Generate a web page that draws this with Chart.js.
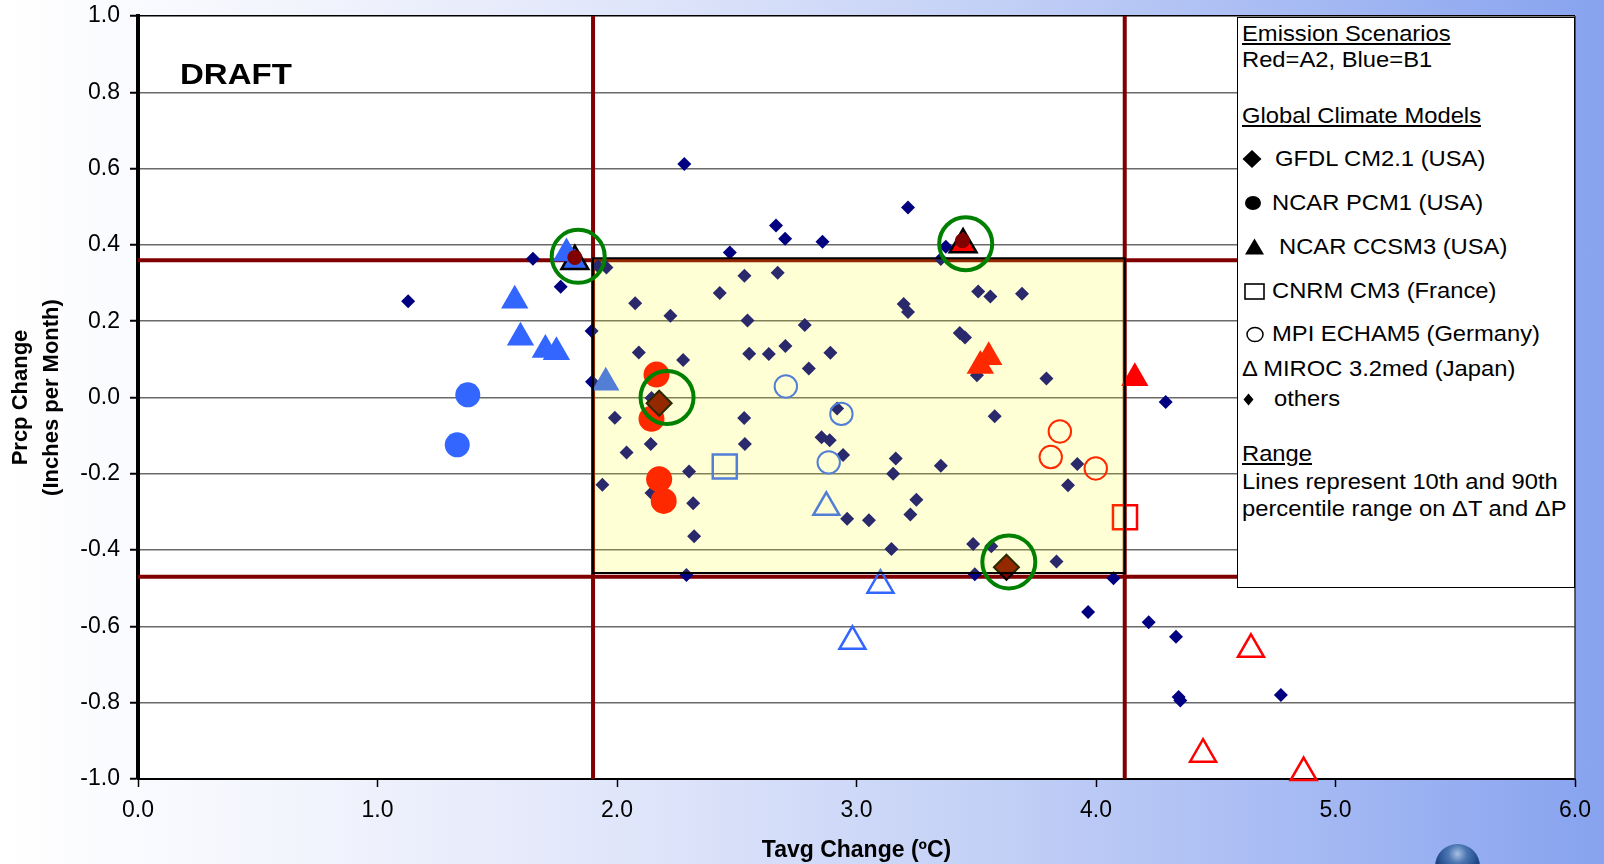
<!DOCTYPE html>
<html>
<head>
<meta charset="utf-8">
<title>Temperature and precipitation change by climate model</title>
<script src="https://cdn.jsdelivr.net/npm/chart.js@4.4.1/dist/chart.umd.min.js"></script>
<style>
  html, body { margin: 0; padding: 0; }
  body {
    width: 1604px; height: 864px; overflow: hidden; position: relative;
    background: linear-gradient(to right, #ffffff 0%, #f3f5fd 18%, #dfe5fa 40%, #c3d0f6 62%, #a5b9f3 82%, #87a3ef 100%);
    font-family: "Liberation Sans", Arial, sans-serif;
  }
  #c { position: absolute; left: 0; top: 0; }
  .draft {
    position: absolute; left: 180px; top: 56px; font-weight: bold; font-size: 30px; line-height: 36px;
    transform: scaleX(1.1); transform-origin: left center; color: #000;
  }
  #legend {
    position: absolute; left: 1237px; top: 17px; width: 336px; height: 569px;
    border: 1.5px solid #000; background: #fff;
  }
  .ln {
    position: absolute; font-size: 22px; line-height: 26px; height: 26px; white-space: nowrap;
    transform: scaleX(1.08); transform-origin: left center; color: #000;
  }
  .u { text-decoration: underline; }
  .sym { position: absolute; overflow: visible; }
  .sphere {
    position: absolute; left: 1435px; top: 844px; width: 45px; height: 45px; border-radius: 50%;
    background: radial-gradient(circle at 50% 22%, #a9c0e4 0%, #4c77b3 22%, #1d4688 52%, #0c2a5e 100%);
  }
</style>
</head>
<body>
<canvas id="c" width="1604" height="864"></canvas>
<div class="draft">DRAFT</div>

<div id="legend">
  <div class="ln u" style="left:4px; top:3px;">Emission Scenarios</div>
  <div class="ln" style="left:4px; top:29px;">Red=A2, Blue=B1</div>
  <div class="ln u" style="left:4px; top:85px;">Global Climate Models</div>

  <svg class="sym" style="left:4px; top:131px;" width="20" height="20"><polygon points="10,1 19.5,10 10,19 0.5,10" fill="#000"/></svg>
  <div class="ln" style="left:37px; top:128px;">GFDL CM2.1 (USA)</div>

  <svg class="sym" style="left:7px; top:177px;" width="18" height="16"><ellipse cx="8" cy="8" rx="8" ry="7" fill="#000"/></svg>
  <div class="ln" style="left:34px; top:172px;">NCAR PCM1 (USA)</div>

  <svg class="sym" style="left:7px; top:220px;" width="20" height="18"><polygon points="9.5,0.5 19,16.5 0,16.5" fill="#000"/></svg>
  <div class="ln" style="left:41px; top:216px;">NCAR CCSM3 (USA)</div>

  <svg class="sym" style="left:6px; top:265px;" width="22" height="18"><rect x="1" y="1" width="19" height="15" fill="none" stroke="#000" stroke-width="1.6"/></svg>
  <div class="ln" style="left:34px; top:260px;">CNRM CM3 (France)</div>

  <svg class="sym" style="left:8px; top:308px;" width="20" height="18"><ellipse cx="9" cy="8.5" rx="8" ry="7" fill="none" stroke="#000" stroke-width="1.5"/></svg>
  <div class="ln" style="left:34px; top:303px;">MPI ECHAM5 (Germany)</div>

  <div class="ln" style="left:4px; top:338px;">&#916; MIROC 3.2med (Japan)</div>

  <svg class="sym" style="left:5px; top:375px;" width="12" height="13"><polygon points="5.5,0.5 10.5,6.5 5.5,12.5 0.5,6.5" fill="#000"/></svg>
  <div class="ln" style="left:36px; top:368px;">others</div>

  <div class="ln u" style="left:4px; top:423px;">Range</div>
  <div class="ln" style="left:4px; top:451px;">Lines represent 10th and 90th</div>
  <div class="ln" style="left:4px; top:478px;">percentile range on &#916;T and &#916;P</div>
</div>

<div class="sphere"></div>

<script>
// Change in average temperature (°C) and precipitation (inches per month), one [dT, dP] pair per run.

// Other GCM runs
const othersPts = [
  [1.128, 0.252], [1.649, 0.364], [1.765, 0.290], [1.921, 0.344], [1.956, 0.341],
  [1.894, 0.174], [1.896, 0.041], [1.991, -0.053], [2.040, -0.144], [1.939, -0.229],
  [2.076, 0.247], [2.091, 0.118], [2.223, 0.214], [2.276, 0.098], [2.141, -0.122],
  [2.144, -0.250], [2.144, -0.001], [2.301, -0.194], [2.318, -0.277], [2.322, -0.364],
  [2.290, -0.465], [2.281, 0.612], [2.471, 0.380], [2.429, 0.274], [2.532, 0.319],
  [2.545, 0.202], [2.552, 0.115], [2.634, 0.114], [2.703, 0.135], [2.671, 0.327],
  [2.664, 0.451], [2.702, 0.416], [2.858, 0.408], [2.784, 0.190], [2.801, 0.076],
  [2.891, 0.117], [2.531, -0.054], [2.534, -0.122], [2.854, -0.104], [2.888, -0.112],
  [2.919, -0.029], [2.944, -0.151], [2.961, -0.318], [3.052, -0.322], [3.146, -0.397],
  [3.164, -0.160], [3.153, -0.200], [3.250, -0.268], [3.225, -0.307], [3.352, -0.179],
  [3.215, 0.498], [3.197, 0.245], [3.215, 0.224], [3.431, 0.169], [3.453, 0.157],
  [3.373, 0.395], [3.352, 0.363], [3.508, 0.278], [3.559, 0.265], [3.691, 0.272],
  [3.503, 0.058], [3.793, 0.050], [3.577, -0.049], [3.922, -0.174], [3.883, -0.230],
  [3.487, -0.384], [3.563, -0.390], [3.494, -0.463], [3.835, -0.430], [4.073, -0.474],
  [3.967, -0.562], [4.220, -0.589], [4.334, -0.627], [4.345, -0.785], [4.352, -0.794],
  [4.772, -0.780], [4.291, -0.012]
];

// GFDL CM2.1 (USA)
const gfdlPts = [[2.176, -0.015], [3.626, -0.445]];

// NCAR PCM1 (USA)
const pcm1B1 = [[1.377, 0.007], [1.333, -0.124]];
const pcm1A2 = [[2.165, 0.060], [2.144, -0.056], [2.176, -0.214], [2.195, -0.271]];

// NCAR CCSM3 (USA)
const ccsm3B1 = [[1.573, 0.254], [1.597, 0.157], [1.701, 0.125], [1.747, 0.119], [1.789, 0.378], [1.953, 0.039]];
const ccsm3A2 = [[3.552, 0.106], [3.517, 0.083], [4.162, 0.051]];
const ccsm3B1Sel = [[1.824, 0.357]];
const ccsm3A2Sel = [[3.445, 0.401]];

// CNRM CM3 (France)
const cnrmB1 = [[2.450, -0.181]];
const cnrmA2 = [[4.121, -0.314]];

// MPI ECHAM5 (Germany)
const mpiB1 = [[2.705, 0.029], [2.937, -0.043], [2.884, -0.170]];
const mpiA2 = [[3.849, -0.089], [3.811, -0.156], [3.999, -0.186]];

// MIROC 3.2med (Japan)
const mirocB1 = [[2.874, -0.288], [3.100, -0.492], [2.983, -0.639]];
const mirocA2 = [[4.647, -0.660], [4.447, -0.935], [4.867, -0.983]];

// Selected runs (dot) and the circled scenarios
const selectedRuns = [[1.824, 0.367], [2.176, -0.015], [3.442, 0.411]];
const circledRuns = [[1.838, 0.370], [2.209, 0.000], [3.456, 0.403], [3.636, -0.431]];

// 10th / 90th percentile range on dT and dP
const tempRange = [1.9, 4.12];
const prcpRange = [-0.47, 0.36];
// Shaded envelope
const boxTemp = [1.9, 4.12];
const boxPrcp = [-0.46, 0.365];

// Axis ticks
const xTickValues = [0, 1, 2, 3, 4, 5, 6];
const yTickValues = [-1.0, -0.8, -0.6, -0.4, -0.2, 0.0, 0.2, 0.4, 0.6, 0.8, 1.0];

const FONT = '"Liberation Sans", Arial, sans-serif';
const RED = '#ff0000';
const BLUE = '#3366ff';
const NAVY = '#000080';
const DARKRED = '#800000';

const toXY = pts => pts.map(p => ({ x: p[0], y: p[1] }));
const fmt = v => (Math.abs(v) < 1e-9 ? 0 : v).toFixed(1);

function ds(label, pts, style) {
  return Object.assign({ label, data: toXY(pts), clip: false, pointBorderWidth: 0 }, style);
}

const datasets = [
  ds('others', othersPts, { order: 20, pointStyle: 'rectRot', pointRadius: 7, backgroundColor: NAVY, borderColor: NAVY, pointBorderWidth: 0 }),
  ds('NCAR CCSM3 B1 (selected)', ccsm3B1Sel, { order: 19, pointStyle: 'triangle', pointRadius: 15.5, backgroundColor: BLUE, borderColor: '#000', pointBorderWidth: 2.5 }),
  ds('NCAR CCSM3 A2 (selected)', ccsm3A2Sel, { order: 19, pointStyle: 'triangle', pointRadius: 15.5, backgroundColor: RED, borderColor: '#000', pointBorderWidth: 2.5 }),
  ds('NCAR PCM1 B1', pcm1B1, { order: 15, pointStyle: 'circle', pointRadius: 12.5, backgroundColor: BLUE, borderColor: BLUE }),
  ds('NCAR PCM1 A2', pcm1A2, { order: 15, pointStyle: 'circle', pointRadius: 13, backgroundColor: RED, borderColor: RED }),
  ds('NCAR CCSM3 B1', ccsm3B1, { order: 15, pointStyle: 'triangle', pointRadius: 15.8, backgroundColor: BLUE, borderColor: BLUE }),
  ds('NCAR CCSM3 A2', ccsm3A2, { order: 15, pointStyle: 'triangle', pointRadius: 15.8, backgroundColor: RED, borderColor: RED }),
  ds('CNRM CM3 B1', cnrmB1, { order: 15, pointStyle: 'rect', pointRadius: 17, backgroundColor: 'rgba(0,0,0,0)', borderColor: BLUE, pointBorderWidth: 2.5 }),
  ds('CNRM CM3 A2', cnrmA2, { order: 15, pointStyle: 'rect', pointRadius: 17, backgroundColor: 'rgba(0,0,0,0)', borderColor: RED, pointBorderWidth: 2.5 }),
  ds('MPI ECHAM5 B1', mpiB1, { order: 15, pointStyle: 'circle', pointRadius: 11.2, backgroundColor: 'rgba(0,0,0,0)', borderColor: BLUE, pointBorderWidth: 2 }),
  ds('MPI ECHAM5 A2', mpiA2, { order: 15, pointStyle: 'circle', pointRadius: 11.2, backgroundColor: 'rgba(0,0,0,0)', borderColor: RED, pointBorderWidth: 2 }),
  ds('MIROC 3.2med B1', mirocB1, { order: 15, pointStyle: 'triangle', pointRadius: 15, backgroundColor: 'rgba(0,0,0,0)', borderColor: BLUE, pointBorderWidth: 2.5 }),
  ds('MIROC 3.2med A2', mirocA2, { order: 15, pointStyle: 'triangle', pointRadius: 15, backgroundColor: 'rgba(0,0,0,0)', borderColor: RED, pointBorderWidth: 2.5 }),
  ds('GFDL CM2.1', gfdlPts, { order: 12, pointStyle: 'rectRot', pointRadius: 12.5, backgroundColor: DARKRED, borderColor: '#000', pointBorderWidth: 2 }),
  ds('selected', selectedRuns, { order: 11, pointStyle: 'circle', pointRadius: 7.5, backgroundColor: DARKRED, borderColor: DARKRED }),
  ds('circled', circledRuns, { order: 0, isRing: true, pointStyle: 'circle', pointRadius: 26.5, backgroundColor: 'rgba(0,0,0,0)', borderColor: '#008000', pointBorderWidth: 4 })
];

// Plot background, percentile lines, and the translucent envelope over the runs
const decor = {
  id: 'decor',
  beforeDraw(chart) {
    const { ctx, chartArea: a } = chart;
    ctx.save();
    ctx.fillStyle = '#ffffff';
    ctx.fillRect(a.left, a.top, a.right - a.left, a.bottom - a.top);
    ctx.restore();
  },
  beforeDatasetsDraw(chart) {
    const { ctx, chartArea: a, scales: { x, y } } = chart;
    ctx.save();
    // right border of the plot
    ctx.strokeStyle = '#333';
    ctx.lineWidth = 1.5;
    ctx.beginPath();
    ctx.moveTo(a.right, a.top);
    ctx.lineTo(a.right, a.bottom);
    ctx.stroke();
    // percentile lines
    ctx.strokeStyle = DARKRED;
    ctx.lineWidth = 4;
    ctx.beginPath();
    tempRange.forEach(t => {
      const px = x.getPixelForValue(t);
      ctx.moveTo(px, a.top);
      ctx.lineTo(px, a.bottom);
    });
    prcpRange.forEach(p => {
      const py = y.getPixelForValue(p);
      ctx.moveTo(a.left, py);
      ctx.lineTo(a.right, py);
    });
    ctx.stroke();
    ctx.restore();
  },
  beforeDatasetDraw(chart, args) {
    if (!chart.data.datasets[args.index].isRing) return;
    const { ctx, scales: { x, y } } = chart;
    const x0 = x.getPixelForValue(boxTemp[0]);
    const x1 = x.getPixelForValue(boxTemp[1]);
    const y0 = y.getPixelForValue(boxPrcp[1]);
    const y1 = y.getPixelForValue(boxPrcp[0]);
    ctx.save();
    ctx.fillStyle = 'rgba(255,255,0,0.16)';
    ctx.fillRect(x0, y0, x1 - x0, y1 - y0);
    ctx.strokeStyle = '#000';
    ctx.lineWidth = 2;
    ctx.strokeRect(x0, y0, x1 - x0, y1 - y0);
    ctx.restore();
  }
};

new Chart(document.getElementById('c'), {
  type: 'scatter',
  data: { datasets },
  options: {
    responsive: false,
    devicePixelRatio: 1,
    animation: false,
    events: [],
    layout: { autoPadding: false, padding: { left: 0, right: 29, top: 16, bottom: 0 } },
    plugins: { legend: { display: false }, tooltip: { enabled: false } },
    scales: {
      x: {
        type: 'linear', min: 0, max: 6,
        afterBuildTicks: s => { s.ticks = xTickValues.map(v => ({ value: v })); },
        afterFit: s => { s.height = 85; s.paddingLeft = 0; s.paddingRight = 0; },
        grid: { drawOnChartArea: false, drawTicks: true, tickLength: 8, tickColor: '#000', tickWidth: 1.5 },
        border: { display: true, color: '#000', width: 2 },
        ticks: { padding: 10, color: '#000', font: { family: FONT, size: 23 }, callback: fmt, maxRotation: 0 },
        title: {
          display: true, text: 'Tavg Change (\u00baC)', color: '#000',
          font: { family: FONT, size: 23, weight: 'bold' }, padding: { top: 0, bottom: 0 }
        }
      },
      y: {
        type: 'linear', min: -1, max: 1,
        afterBuildTicks: s => { s.ticks = yTickValues.map(v => ({ value: v })); },
        afterFit: s => { s.width = 138; s.paddingTop = 0; s.paddingBottom = 0; },
        grid: {
          color: c => (c.tick && Math.abs(c.tick.value - 1) < 1e-9 ? '#000' : '#6a6a6a'),
          lineWidth: 1.5, drawTicks: true, tickLength: 8, tickColor: '#000', tickWidth: 2
        },
        border: { display: true, color: '#000', width: 4 },
        ticks: { padding: 10, color: '#000', font: { family: FONT, size: 23 }, callback: fmt },
        title: {
          display: true, text: ['Prcp Change', '(Inches per Month)'], color: '#000',
          font: { family: FONT, size: 22, weight: 'bold', lineHeight: 1.4 }, padding: { top: 6, bottom: 0 }
        }
      }
    }
  },
  plugins: [decor]
});
</script>
</body>
</html>
